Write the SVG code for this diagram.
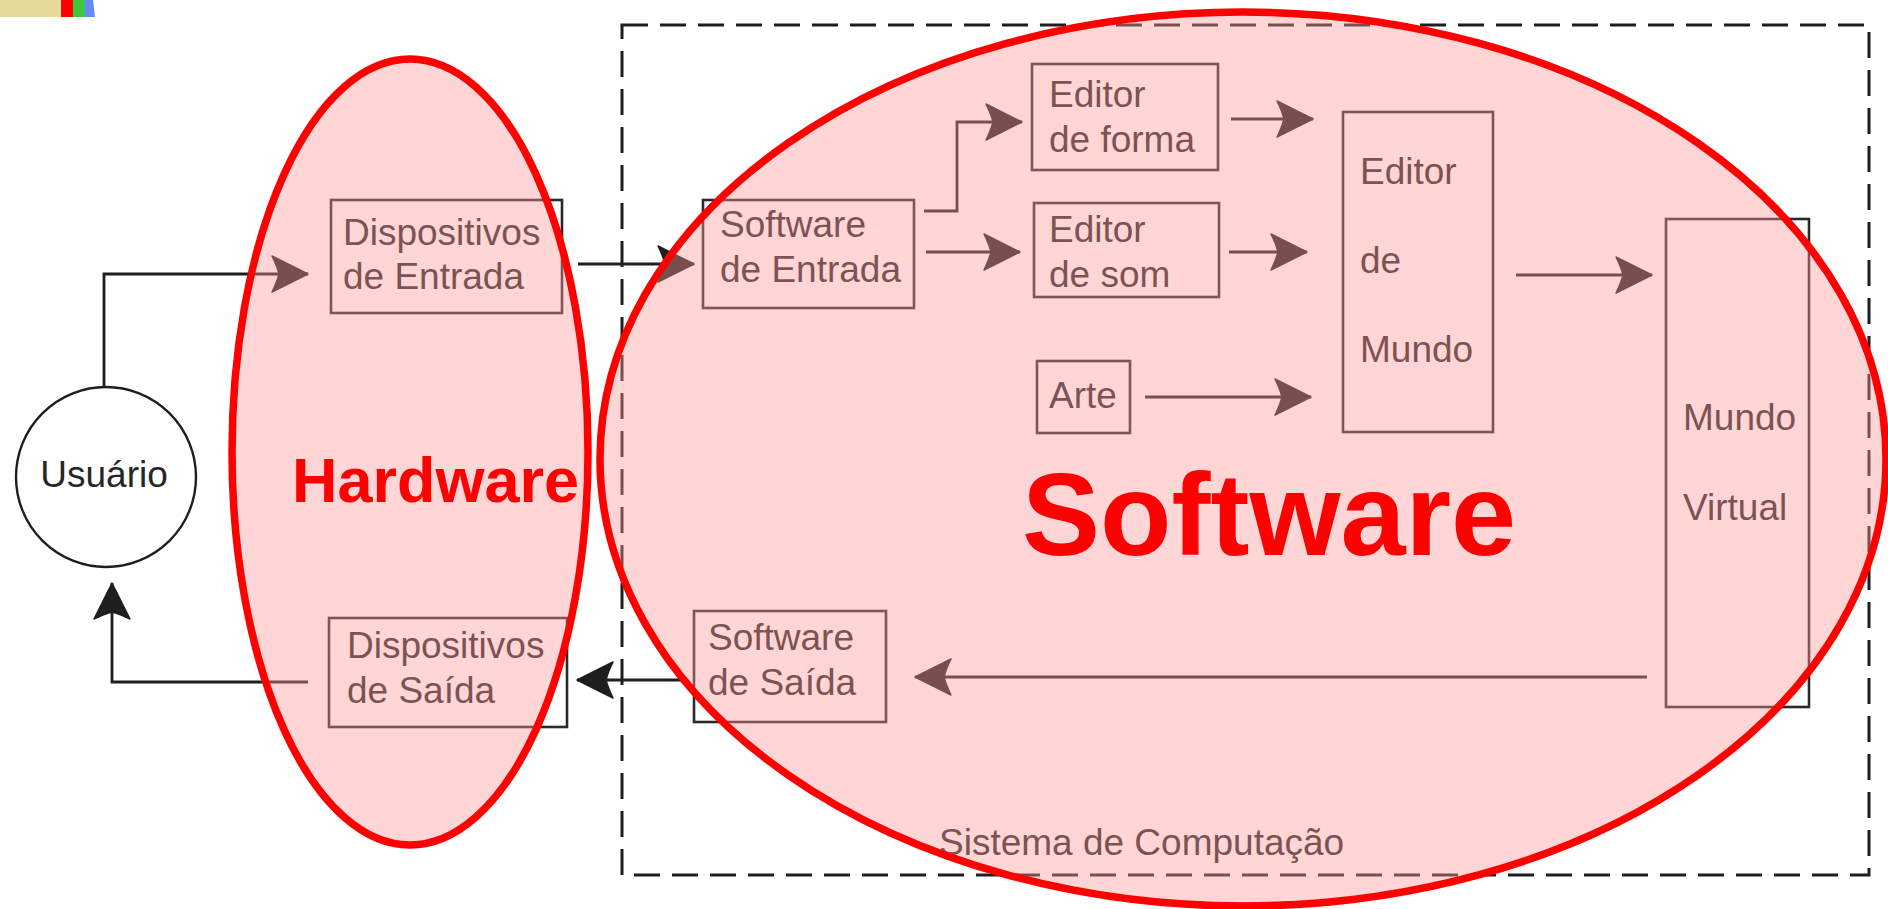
<svg xmlns="http://www.w3.org/2000/svg" width="1888" height="909" viewBox="0 0 1888 909">
<defs>
<style>
.box{fill:none;stroke:#2a2a2a;stroke-width:2.6}
.t{font-family:"Liberation Sans",Arial,sans-serif;font-size:37px;fill:#262626}
.con{fill:none;stroke:#1e1e1e;stroke-width:2.8;stroke-linecap:butt}
.frame{fill:none;stroke:#1e1e1e;stroke-width:3;stroke-dasharray:26 12}
.zone{fill:#ff9595;fill-opacity:0.4;stroke:#ff0000;stroke-width:7.5}
.big{font-family:"Liberation Sans",Arial,sans-serif;font-weight:bold;fill:#ff0000}
</style>
<marker id="arr" viewBox="-40 -20 42 40" markerWidth="42" markerHeight="40" refX="0" refY="0" orient="auto" markerUnits="userSpaceOnUse">
<path d="M0,0 L-36,-18 Q-31,-8 -29,0 Q-31,8 -36,18 Z" fill="#1e1e1e" stroke="#1e1e1e" stroke-width="1.5" stroke-linejoin="round"/>
</marker>
</defs>
<rect width="1888" height="909" fill="#ffffff"/>
<g id="colorbar">
<rect x="0" y="0" width="61" height="17" fill="#e6da98"/>
<rect x="61" y="0" width="12" height="17" fill="#ff0000"/>
<rect x="73" y="0" width="12" height="17" fill="#3cc83c"/>
<path d="M85,0 H93 L95,17 H85 Z" fill="#6a86ff"/>
</g>
<g id="sistema">
<rect class="frame" x="622" y="25" width="1247" height="850"/>
<text class="t" x="939" y="855">Sistema de Computação</text>
</g>
<g id="usuario">
<circle cx="106" cy="477" r="90" fill="#ffffff" stroke="#1e1e1e" stroke-width="2.4"/>
<text class="t" x="104" y="487" text-anchor="middle">Usuário</text>
</g>
<g id="disp-entrada">
<rect class="box" x="331" y="200" width="231" height="113"/>
<text class="t" x="343" y="245">Dispositivos</text>
<text class="t" x="343" y="289">de Entrada</text>
</g>
<g id="soft-entrada">
<rect class="box" x="703" y="200" width="211" height="108"/>
<text class="t" x="720" y="237">Software</text>
<text class="t" x="720" y="282">de Entrada</text>
</g>
<g id="editor-forma">
<rect class="box" x="1032" y="64" width="186" height="106"/>
<text class="t" x="1049" y="107">Editor</text>
<text class="t" x="1049" y="152">de forma</text>
</g>
<g id="editor-som">
<rect class="box" x="1034" y="203" width="185" height="94"/>
<text class="t" x="1049" y="242">Editor</text>
<text class="t" x="1049" y="287">de som</text>
</g>
<g id="arte">
<rect class="box" x="1037" y="361" width="93" height="72"/>
<text class="t" x="1049" y="408">Arte</text>
</g>
<g id="editor-mundo">
<rect class="box" x="1343" y="112" width="150" height="320"/>
<text class="t" x="1360" y="184">Editor</text>
<text class="t" x="1360" y="273">de</text>
<text class="t" x="1360" y="362">Mundo</text>
</g>
<g id="mundo-virtual">
<rect class="box" x="1666" y="219" width="143" height="488"/>
<text class="t" x="1683" y="430">Mundo</text>
<text class="t" x="1683" y="520">Virtual</text>
</g>
<g id="soft-saida">
<rect class="box" x="694" y="611" width="192" height="111"/>
<text class="t" x="708" y="650">Software</text>
<text class="t" x="708" y="695">de Saída</text>
</g>
<g id="disp-saida">
<rect class="box" x="329" y="618" width="238" height="109"/>
<text class="t" x="347" y="658">Dispositivos</text>
<text class="t" x="347" y="703">de Saída</text>
</g>
<g id="connectors">
<path class="con" d="M104,387 V274 H308" marker-end="url(#arr)"/>
<path class="con" d="M578,264 H694" marker-end="url(#arr)"/>
<path class="con" d="M924,211 H957 V122 H1022" marker-end="url(#arr)"/>
<path class="con" d="M926,252 H1020" marker-end="url(#arr)"/>
<path class="con" d="M1231,119 H1313" marker-end="url(#arr)"/>
<path class="con" d="M1229,252 H1307" marker-end="url(#arr)"/>
<path class="con" d="M1145,397 H1311" marker-end="url(#arr)"/>
<path class="con" d="M1516,275 H1652" marker-end="url(#arr)"/>
<path class="con" d="M1647,677 H915" marker-end="url(#arr)"/>
<path class="con" d="M683,680 H577" marker-end="url(#arr)"/>
<path class="con" d="M308,682 H112 V583" marker-end="url(#arr)"/>
</g>
<g id="hardware">
<ellipse class="zone" cx="410" cy="452" rx="178" ry="393"/>
<text class="big" x="292" y="502" font-size="63">Hardware</text>
</g>
<g id="software">
<ellipse class="zone" cx="1243" cy="459" rx="643" ry="447"/>
<text class="big" x="1022" y="555" font-size="117">Software</text>
</g>
</svg>
